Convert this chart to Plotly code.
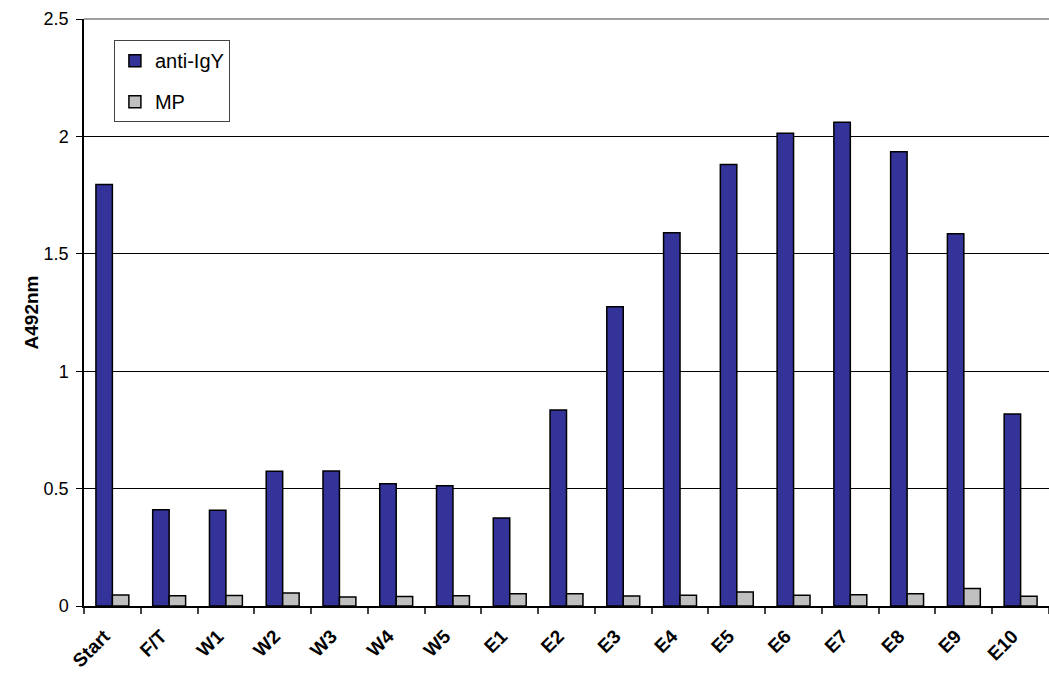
import plotly.graph_objects as go

categories = ["Start", "F/T", "W1", "W2", "W3", "W4", "W5", "E1", "E2", "E3",
              "E4", "E5", "E6", "E7", "E8", "E9", "E10"]
anti_igy = [1.795, 0.41, 0.408, 0.574, 0.575, 0.521, 0.512, 0.375, 0.835, 1.275,
            1.59, 1.88, 2.013, 2.06, 1.935, 1.585, 0.818]
mp = [0.047, 0.044, 0.045, 0.055, 0.038, 0.040, 0.044, 0.052, 0.052, 0.043,
      0.046, 0.060, 0.046, 0.048, 0.052, 0.074, 0.042]
y_ticks = [0, 0.5, 1, 1.5, 2, 2.5]
y_tick_text = ["0", "0.5", "1", "1.5", "2", "2.5"]

font_family = "Liberation Sans, Arial, sans-serif"

fig = go.Figure()
fig.add_trace(go.Bar(
    x=categories, y=anti_igy, name="anti-IgY", legendgroup="a",
    marker=dict(color="#333399", line=dict(color="#000000", width=1.5)),
))
fig.add_trace(go.Bar(
    x=categories, y=mp, name="MP", legendgroup="b",
    marker=dict(color="#C0C0C0", line=dict(color="#000000", width=1.5)),
))

fig.update_layout(
    width=1049, height=673,
    margin=dict(l=84, r=0, t=19, b=67),
    paper_bgcolor="white", plot_bgcolor="white",
    barmode="group", bargap=0.42, bargroupgap=0,
    font=dict(family=font_family, size=18, color="#000000"),
    showlegend=True,
    legend=dict(
        x=0.031, y=0.964, xanchor="left", yanchor="top",
        bgcolor="white", bordercolor="#444444", borderwidth=1,
        font=dict(size=20, family=font_family),
        traceorder="grouped", tracegroupgap=12,
    ),
    shapes=[dict(type="line", xref="paper", yref="paper", x0=0, x1=1, y0=1, y1=1,
                 line=dict(color="#808080", width=1.5))],
)

fig.update_xaxes(
    type="category", automargin=False,
    showline=True, linecolor="#000000", linewidth=1.5,
    ticks="outside", tickson="boundaries", ticklen=6, tickcolor="#444444", tickwidth=1.5,
    tickangle=-45, ticklabelstandoff=10, ticklabelshift=-8,
    tickvals=categories, ticktext=[f"<b>{c}</b>" for c in categories],
    tickfont=dict(size=19),
    showgrid=False,
)
fig.update_yaxes(
    range=[0, 2.5], tickvals=y_ticks, ticktext=y_tick_text, automargin=False,
    showline=True, linecolor="#000000", linewidth=1.5,
    ticks="outside", ticklen=6, tickcolor="#000000",
    ticklabelstandoff=4,
    showgrid=True, gridcolor="#000000", gridwidth=1,
    zeroline=False,
    title=dict(text="<b>A492nm</b>", font=dict(size=19), standoff=0),
    tickfont=dict(size=18),
)

fig.write_html("out.html")
